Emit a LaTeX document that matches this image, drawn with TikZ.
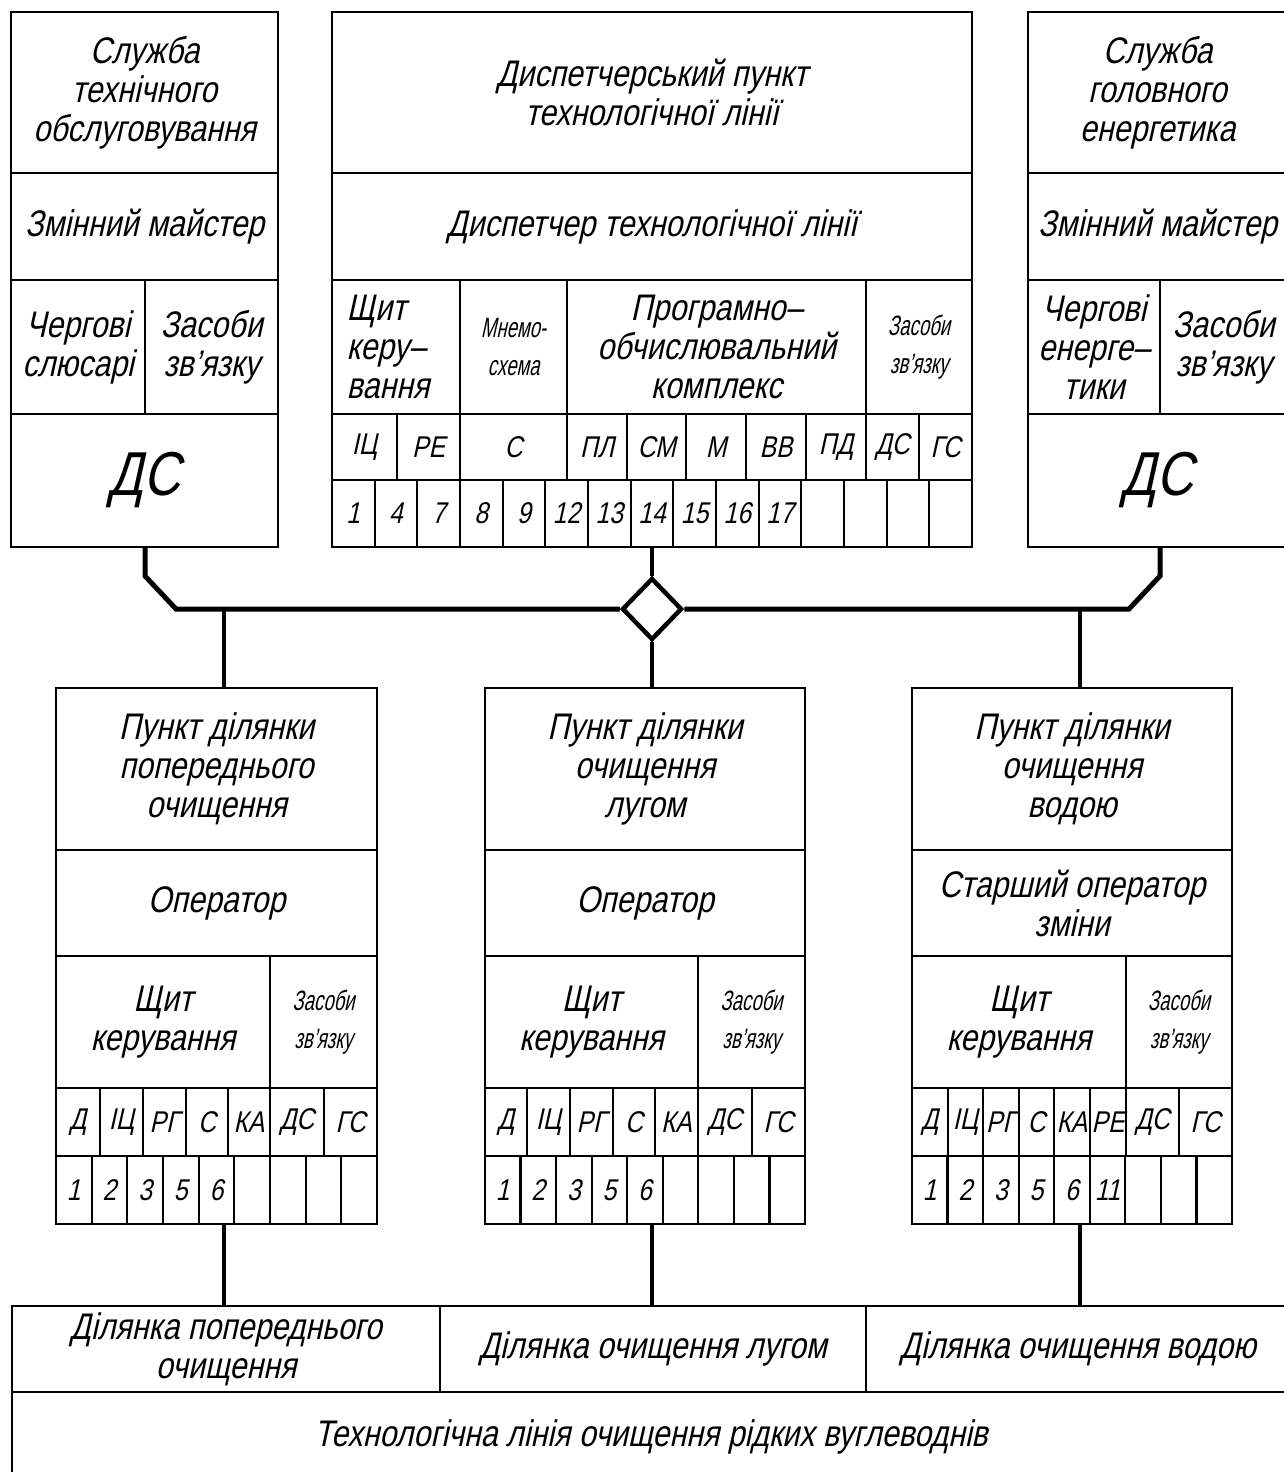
\documentclass[tikz,border=0pt]{standalone}
\usepackage{fontspec}
\usetikzlibrary{shapes.geometric,calc}
\newfontfamily\gost[FakeSlant=0.22,FakeStretch=0.82]{Liberation Sans}
\newfontfamily\gostn[FakeSlant=0.22,FakeStretch=0.66]{Liberation Sans}
\tikzset{
  cellbox/.style={draw,line width=2.2pt,inner sep=0pt,outer sep=0pt,align=center,font=\gost\fontsize{37}{39}\selectfont},
  plaintxt/.style={inner sep=0pt,font=\gost\fontsize{37}{39}\selectfont},
  smalltxt/.style={font=\gostn\fontsize{28}{38}\selectfont},
  abbr/.style={font=\gost\fontsize{30}{30}\selectfont},
  numtxt/.style={font=\gost\fontsize{30}{30}\selectfont},
  bigtxt/.style={font=\gost\fontsize{62}{62}\selectfont},
  bus/.style={line width=5pt,line join=miter},
  wire/.style={line width=3.6pt},
}
% [style]{name}{x1}{y1}{x2}{y2}{text}
\newcommand\mkcell[7][]{%
  \pgfmathsetmacro\cwid{#5-#3}\pgfmathsetmacro\chgt{#6-#4}%
  \node[cellbox,#1,minimum width=\cwid pt,minimum height=\chgt pt] (#2) at ({(#3+#5)/2},{(#4+#6)/2}) {#7};}
\begin{document}
\begin{tikzpicture}[x=1pt,y=-1pt]
\clip (0,0) rectangle (1284,1472);
\fill[white] (0,0) rectangle (1284,1472);
% ---------- top left block
\mkcell{tla}{11}{12}{278}{173}{Служба\\технічного\\обслуговування}
\mkcell{tlb}{11}{173}{278}{280}{Змінний майстер}
\mkcell{tlc}{11}{280}{145}{414}{Чергові\\слюсарі}
\mkcell{tld}{145}{280}{278}{414}{Засоби\\зв’язку}
\mkcell[bigtxt]{tle}{11}{414}{278}{547}{ДС}
% ---------- top right block
\mkcell{tra}{1028}{12}{1287}{173}{Служба\\головного\\енергетика}
\mkcell{trb}{1028}{173}{1287}{280}{Змінний майстер}
\mkcell{trc}{1028}{280}{1160}{414}{Чергові\\енерге–\\тики}
\mkcell{trd}{1160}{280}{1287}{414}{Засоби\\зв’язку}
\mkcell[bigtxt]{tre}{1028}{414}{1287}{547}{ДС}
% ---------- top centre block
\mkcell{tca}{332}{12}{972}{173}{Диспетчерський пункт\\технологічної лінії}
\mkcell{tcb}{332}{173}{972}{280}{Диспетчер технологічної лінії}
\mkcell{tcc}{332}{280}{460}{414}{}
\node[plaintxt,align=left] (tcctxt) at ([xshift=-8pt]tcc.center) {Щит\\керу–\\вання};
\mkcell[smalltxt]{tcd}{460}{280}{567}{414}{Мнемо-\\схема}
\mkcell{tce}{567}{280}{866}{414}{Програмно–\\обчислювальний\\комплекс}
\mkcell[smalltxt]{tcf}{866}{280}{972}{414}{Засоби\\зв’язку}
\mkcell[abbr]{ta1}{332}{414}{397}{480}{ІЦ}
\mkcell[abbr]{ta2}{397}{414}{460}{480}{РЕ}
\mkcell[abbr]{ta3}{460}{414}{567}{480}{С}
\mkcell[abbr]{ta4}{567}{414}{627}{480}{ПЛ}
\mkcell[abbr]{ta5}{627}{414}{686}{480}{СМ}
\mkcell[abbr]{ta6}{686}{414}{746}{480}{М}
\mkcell[abbr]{ta7}{746}{414}{806}{480}{ВВ}
\mkcell[abbr]{ta8}{806}{414}{866}{480}{ПД}
\mkcell[abbr]{ta9}{866}{414}{919}{480}{ДС}
\mkcell[abbr]{ta10}{919}{414}{972}{480}{ГС}
\foreach \t [count=\i from 0] in {1,4,7,8,9,12,13,14,15,16,17,{},{},{},{}}{
  \pgfmathsetmacro\xa{332+\i*640/15}\pgfmathsetmacro\xb{332+(\i+1)*640/15}
  \mkcell[numtxt]{tn\i}{\xa}{480}{\xb}{547}{\t}
}
% ---------- lower left block
\mkcell{lla}{56}{688}{377}{850}{Пункт ділянки\\попереднього\\очищення}
\mkcell{llb}{56}{850}{377}{956}{Оператор}
\mkcell{llc}{56}{956}{270}{1088}{Щит\\керування}
\mkcell[smalltxt]{lld}{270}{956}{377}{1088}{Засоби\\зв’язку}
\mkcell[abbr]{lt1}{56}{1088}{100}{1156}{Д}
\mkcell[abbr]{lt2}{100}{1088}{143}{1156}{ІЦ}
\mkcell[abbr]{lt3}{143}{1088}{186}{1156}{РГ}
\mkcell[abbr]{lt4}{186}{1088}{228}{1156}{С}
\mkcell[abbr]{lt5}{228}{1088}{270}{1156}{КА}
\mkcell[abbr]{lt6}{270}{1088}{324}{1156}{ДС}
\mkcell[abbr]{lt7}{324}{1088}{377}{1156}{ГС}
\foreach \t [count=\i from 0] in {1,2,3,5,6,{},{},{},{}}{
  \pgfmathsetmacro\xa{56+\i*321/9}\pgfmathsetmacro\xb{56+(\i+1)*321/9}
  \mkcell[numtxt]{ln\i}{\xa}{1156}{\xb}{1224}{\t}
}
% ---------- lower middle block
\mkcell{lma}{485}{688}{805}{850}{Пункт ділянки\\очищення\\лугом}
\mkcell{lmb}{485}{850}{805}{956}{Оператор}
\mkcell{lmc}{485}{956}{698}{1088}{Щит\\керування}
\mkcell[smalltxt]{lmd}{698}{956}{805}{1088}{Засоби\\зв’язку}
\mkcell[abbr]{mt1}{485}{1088}{527}{1156}{Д}
\mkcell[abbr]{mt2}{527}{1088}{570}{1156}{ІЦ}
\mkcell[abbr]{mt3}{570}{1088}{613}{1156}{РГ}
\mkcell[abbr]{mt4}{613}{1088}{655}{1156}{С}
\mkcell[abbr]{mt5}{655}{1088}{698}{1156}{КА}
\mkcell[abbr]{mt6}{698}{1088}{752}{1156}{ДС}
\mkcell[abbr]{mt7}{752}{1088}{805}{1156}{ГС}
\foreach \t [count=\i from 0] in {1,2,3,5,6,{},{},{},{}}{
  \pgfmathsetmacro\xa{485+\i*320/9}\pgfmathsetmacro\xb{485+(\i+1)*320/9}
  \mkcell[numtxt]{mn\i}{\xa}{1156}{\xb}{1224}{\t}
}
% ---------- lower right block
\mkcell{lra}{912}{688}{1232}{850}{Пункт ділянки\\очищення\\водою}
\mkcell{lrb}{912}{850}{1232}{956}{Старший оператор\\зміни}
\mkcell{lrc}{912}{956}{1126}{1088}{Щит\\керування}
\mkcell[smalltxt]{lrd}{1126}{956}{1232}{1088}{Засоби\\зв’язку}
\mkcell[abbr]{rt1}{912}{1088}{948}{1156}{Д}
\mkcell[abbr]{rt2}{948}{1088}{983}{1156}{ІЦ}
\mkcell[abbr]{rt3}{983}{1088}{1019}{1156}{РГ}
\mkcell[abbr]{rt4}{1019}{1088}{1054}{1156}{С}
\mkcell[abbr]{rt5}{1054}{1088}{1090}{1156}{КА}
\mkcell[abbr]{rt6}{1090}{1088}{1126}{1156}{РЕ}
\mkcell[abbr]{rt7}{1126}{1088}{1179}{1156}{ДС}
\mkcell[abbr]{rt8}{1179}{1088}{1232}{1156}{ГС}
\foreach \t [count=\i from 0] in {1,2,3,5,6,11,{},{},{}}{
  \pgfmathsetmacro\xa{912+\i*320/9}\pgfmathsetmacro\xb{912+(\i+1)*320/9}
  \mkcell[numtxt]{rn\i}{\xa}{1156}{\xb}{1224}{\t}
}
% ---------- bottom
\mkcell{ba}{12}{1306}{440}{1392}{Ділянка попереднього\\очищення}
\mkcell{bb}{440}{1306}{866}{1392}{Ділянка очищення лугом}
\mkcell{bc}{866}{1306}{1290}{1392}{Ділянка очищення водою}
\mkcell{bd}{12}{1392}{1290}{1482}{Технологічна лінія очищення рідких вуглеводнів}
% ---------- connectors
\node[diamond,draw,line width=4.5pt,inner sep=0pt,minimum width=60pt,minimum height=62pt] (hub) at (652,609) {};
\coordinate (jl) at (224,609);
\coordinate (jr) at (1080,609);
\coordinate (kl) at (145,576);
\coordinate (kr) at (1160,576);
\draw[bus] (tle.south -| tld.west) -- (kl) -- (176,609) -- (hub.west);
\draw[bus] (hub.east) -- (1129,609) -- (kr) -- (tre.south -| trd.west);
\draw[wire] (tn7.south -| hub.north) -- (hub.north);
\draw[wire] (hub.south) -- (hub.south |- lma.north);
\draw[wire] (jl) -- (jl |- lla.north);
\draw[wire] (jr) -- (jr |- lra.north);
\draw[wire] (jl |- ln0.south) -- (jl |- ba.north);
\draw[wire] (hub |- mn0.south) -- (hub |- bb.north);
\draw[wire] (jr |- rn0.south) -- (jr |- bc.north);
\end{tikzpicture}
\end{document}
